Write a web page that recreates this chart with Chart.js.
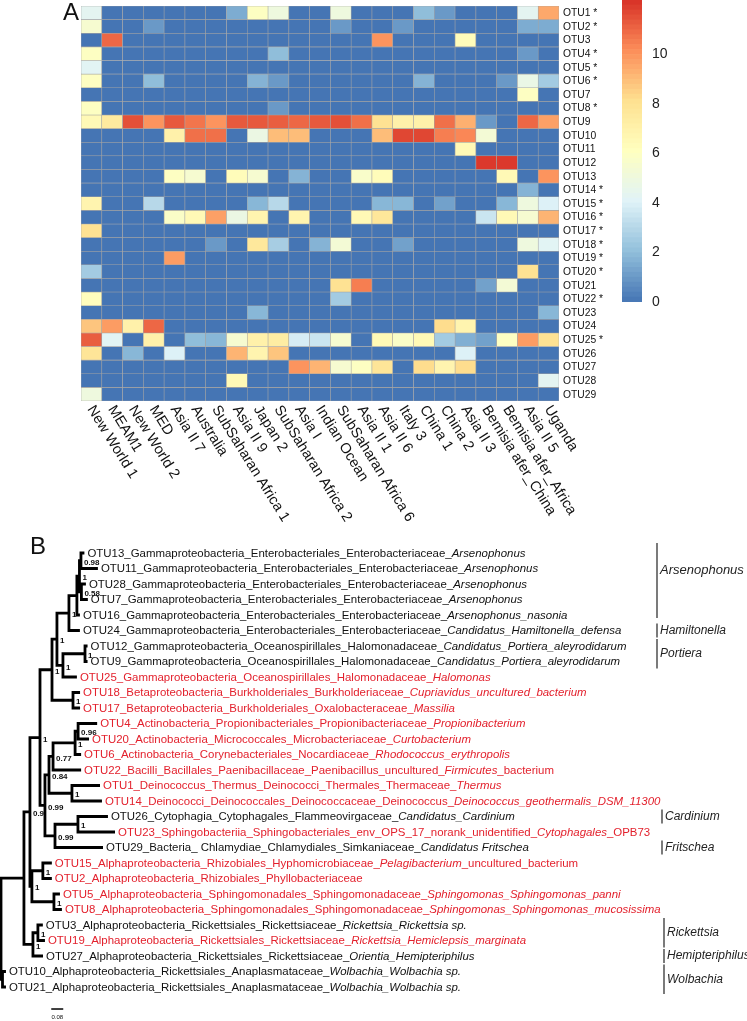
<!DOCTYPE html>
<html>
<head>
<meta charset="utf-8">
<script src="https://cdn.jsdelivr.net/npm/chart.js@4.4.1/dist/chart.umd.min.js"></script>
<style>
  html, body { margin: 0; padding: 0; background: #fff; }
  #page { position: relative; width: 747px; height: 1021px; overflow: hidden; }
  #page canvas { position: absolute; }
</style>
</head>
<body>
<div id="page">
  <canvas id="heat" width="747" height="545" style="left:0;top:0"></canvas>
  <canvas id="tree" width="747" height="501" style="left:0;top:520px"></canvas>
  <canvas id="scale" width="90" height="320" style="left:600px;top:0"></canvas>
</div>
<script>
(function () {
  'use strict';

  // ---- panel A data ----
  const columns = ['New World 1', 'MEAM1', 'New World 2', 'MED', 'Asia II 7', 'Australia',
    'SubSaharan Africa 1', 'Asia II 9', 'Japan 2', 'SubSaharan Africa 2', 'Asia I', 'Indian Ocean',
    'SubSaharan Africa 6', 'Asia II 1', 'Asia II 6', 'Italy 3', 'China 1', 'China 2', 'Asia II 3',
    'Bemisia afer_China', 'Bemisia afer_Africa', 'Asia II 5', 'Uganda'];

  const rowLabels = ['OTU1 *', 'OTU2 *', 'OTU3', 'OTU4 *', 'OTU5 *', 'OTU6 *', 'OTU7', 'OTU8 *',
    'OTU9', 'OTU10', 'OTU11', 'OTU12', 'OTU13', 'OTU14 *', 'OTU15 *', 'OTU16 *', 'OTU17 *',
    'OTU18 *', 'OTU19 *', 'OTU20 *', 'OTU21', 'OTU22 *', 'OTU23', 'OTU24', 'OTU25 *', 'OTU26',
    'OTU27', 'OTU28', 'OTU29'];

  const heatValues = [
    [4.3, 0, 0, 0, 0, 0, 0, 1.5, 6, 5, 0, 0, 5, 0, 0, 0, 2, 1, 0, 0, 0, 4.3, 9.5],
    [5.5, 0, 0, 1, 0, 0, 0, 0, 0, 0, 0, 0, 1, 0, 0, 1, 0, 0, 0, 0, 0, 1.5, 1.5],
    [0, 11, 0, 0, 0, 0, 0, 0, 0, 0, 0, 0, 0, 0, 10, 0, 0, 0, 6.3, 0, 0, 0, 0],
    [6, 0, 0, 0, 0, 0, 0, 0, 0, 2, 0, 0, 0, 0, 0, 0, 0, 0, 0, 0, 0, 1, 0],
    [4.2, 0, 0, 0, 0, 0, 0, 0, 0, 0, 0, 0, 0, 0, 0, 0, 0, 0, 0, 0, 0, 0, 0],
    [6, 0, 0, 2, 0, 0, 0, 0, 1.7, 1, 0, 0, 0, 0, 0, 0, 1.7, 0, 0, 0, 1, 4.7, 2.5],
    [0, 0, 0, 0, 0, 0, 0, 0, 0, 0, 0, 0, 0, 0, 0, 0, 0, 0, 0, 0, 0, 6, 0],
    [6, 0, 0, 0, 0, 0, 0, 0, 0, 1, 0, 0, 0, 0, 0, 0, 0, 0, 0, 0, 0, 0, 0],
    [6.5, 7.5, 11.5, 10, 11.3, 10.7, 10, 11.3, 11.3, 11.2, 11, 11.3, 11.5, 10.8, 8, 7, 7, 10.8, 9.3, 1, 0, 11, 9.7],
    [0, 0, 0, 0, 7, 10.8, 10.8, 0, 4.8, 9, 9, 0, 0, 0, 9, 11.7, 11.7, 10.5, 10.3, 5.3, 0, 0, 0],
    [0, 0, 0, 0, 0, 0, 0, 0, 0, 0, 0, 0, 0, 0, 0, 0, 0, 0, 6.5, 0, 0, 0, 0],
    [0, 0, 0, 0, 0, 0, 0, 0, 0, 0, 0, 0, 0, 0, 0, 0, 0, 0, 0, 12, 12, 0, 0],
    [0, 0, 0, 0, 6, 5.5, 0, 6.3, 5.5, 0, 1.7, 0, 0, 5.7, 6.3, 0, 0, 0, 0, 0, 6.5, 0, 10],
    [0, 0, 0, 0, 0, 0, 0, 0, 0, 0, 0, 0, 0, 0, 0, 0, 0, 0, 0, 0, 0, 1.7, 0],
    [6.8, 0, 0, 3, 0, 0, 0, 0, 1.8, 3, 0, 0, 0, 0, 1.8, 1.8, 0, 1.2, 0, 0, 1.8, 5, 4],
    [0, 0, 0, 0, 5.8, 6.5, 9.7, 4.8, 6.8, 0, 6.8, 0, 0, 6.5, 7.7, 0, 0, 0, 0, 3.5, 6.5, 5.5, 9.2],
    [8, 0, 0, 0, 0, 0, 0, 0, 0, 0, 0, 0, 0, 0, 0, 0, 0, 0, 0, 0, 0, 0, 0],
    [0, 0, 0, 0, 0, 0, 1, 0, 7.6, 2.6, 0, 1.7, 5.3, 0, 0, 1.2, 0, 0, 0, 0, 0, 5, 4.2],
    [0, 0, 0, 0, 9.8, 0, 0, 0, 0, 0, 0, 0, 0, 0, 0, 0, 0, 0, 0, 0, 0, 0, 0],
    [2.5, 0, 0, 0, 0, 0, 0, 0, 0, 0, 0, 0, 0, 0, 0, 0, 0, 0, 0, 0, 0, 8, 0],
    [0, 0, 0, 0, 0, 0, 0, 0, 0, 0, 0, 0, 8, 10.5, 0, 0, 0, 0, 0, 1.2, 5.3, 0, 0],
    [6.2, 0, 0, 0, 0, 0, 0, 0, 0, 0, 0, 0, 2.5, 0, 0, 0, 0, 0, 0, 0, 0, 0, 0],
    [0, 0, 0, 0, 0, 0, 0, 0, 1.8, 0, 0, 0, 0, 0, 0, 0, 0, 0, 0, 0, 0, 0, 1.8],
    [8.8, 9.8, 7, 11, 0, 0, 0, 0, 0, 0, 0, 0, 0, 0, 0, 0, 0, 8.2, 6.8, 0, 0, 0, 0],
    [11.2, 4.2, 0, 7, 0, 2, 1.8, 5.5, 7, 7.3, 3.8, 3.5, 5.5, 0, 6.5, 5.8, 6.5, 2.5, 1.6, 1.2, 6, 9.8, 8],
    [7.8, 0, 1.8, 0, 4, 0, 0, 9.2, 6.8, 8.8, 0, 0, 0, 0, 0, 0, 0, 0, 4, 0, 0, 0, 0],
    [0, 0, 0, 0, 0, 0, 0, 0, 0, 0, 10, 9.2, 5.5, 6, 7.8, 0, 8.2, 6.8, 8.2, 0, 0, 0, 0],
    [0, 0, 0, 0, 0, 0, 0, 6.5, 0, 0, 0, 0, 0, 0, 0, 0, 0, 0, 0, 0, 0, 0, 4.3],
    [5, 0, 0, 0, 0, 0, 0, 0, 0, 0, 0, 0, 0, 0, 0, 0, 0, 0, 0, 0, 0, 0, 0]
  ];

  const heatMax = 12.2;
  const legendTicks = [0, 2, 4, 6, 8, 10];

  // ---- panel B data ----
  const treeNewick =
    '((((((((((OTU13:0.023,OTU11:0.113)0.98:0.01,(OTU28:0.03,OTU7:0.043)0.58:0.013)1:0.017,' +
    'OTU16:0.02):0.053,OTU24:0.073)1:0.08,((OTU12:0.017,OTU9:0.017)1:0.147,OTU25:0.093)1:0.04)1:0.033,' +
    '(OTU18:0.047,OTU17:0.047)1:0.14)1:0.08,' +
    '(((((OTU4:0.127,OTU20:0.073)0.96:0.02,OTU6:0.04)1:0.147,OTU22:0.187)0.77:0.027,' +
    '(OTU1:0.187,OTU14:0.2)1:0.153)0.84:0.027,((OTU26:0.2,OTU23:0.247)1:0.153,OTU29:0.32)0.99:0.067)0.99:0.033)1:0.067,' +
    '((OTU15:0.06,OTU2:0.06)1:0.073,(OTU5:0.04,OTU8:0.053)1:0.147)1:0.013)0.9:0.04,' +
    '((OTU3:0.033,OTU19:0.047)1:0.033,OTU27:0.067)1:0.06):0.153,(OTU10:0.023,OTU21:0.023):0.01);';

  // text between * is italic
  const tipTaxonomy = {
    OTU13: 'OTU13_Gammaproteobacteria_Enterobacteriales_Enterobacteriaceae_*Arsenophonus*',
    OTU11: 'OTU11_Gammaproteobacteria_Enterobacteriales_Enterobacteriaceae_*Arsenophonus*',
    OTU28: 'OTU28_Gammaproteobacteria_Enterobacteriales_Enterobacteriaceae_*Arsenophonus*',
    OTU7: 'OTU7_Gammaproteobacteria_Enterobacteriales_Enterobacteriaceae_*Arsenophonus*',
    OTU16: 'OTU16_Gammaproteobacteria_Enterobacteriales_Enterobacteriaceae_*Arsenophonus_nasonia*',
    OTU24: 'OTU24_Gammaproteobacteria_Enterobacteriales_Enterobacteriaceae_*Candidatus_Hamiltonella_defensa*',
    OTU12: 'OTU12_Gammaproteobacteria_Oceanospirillales_Halomonadaceae_*Candidatus_Portiera_aleyrodidarum*',
    OTU9: 'OTU9_Gammaproteobacteria_Oceanospirillales_Halomonadaceae_*Candidatus_Portiera_aleyrodidarum*',
    OTU25: 'OTU25_Gammaproteobacteria_Oceanospirillales_Halomonadaceae_*Halomonas*',
    OTU18: 'OTU18_Betaproteobacteria_Burkholderiales_Burkholderiaceae_*Cupriavidus_uncultured_bacterium*',
    OTU17: 'OTU17_Betaproteobacteria_Burkholderiales_Oxalobacteraceae_*Massilia*',
    OTU4: 'OTU4_Actinobacteria_Propionibacteriales_Propionibacteriaceae_*Propionibacterium*',
    OTU20: 'OTU20_Actinobacteria_Micrococcales_Microbacteriaceae_*Curtobacterium*',
    OTU6: 'OTU6_Actinobacteria_Corynebacteriales_Nocardiaceae_*Rhodococcus_erythropolis*',
    OTU22: 'OTU22_Bacilli_Bacillales_Paenibacillaceae_Paenibacillus_uncultured_*Firmicutes*_bacterium',
    OTU1: 'OTU1_Deinococcus_Thermus_Deinococci_Thermales_Thermaceae_*Thermus*',
    OTU14: 'OTU14_Deinococci_Deinococcales_Deinococcaceae_Deinococcus_*Deinococcus_geothermalis_DSM_11300*',
    OTU26: 'OTU26_Cytophagia_Cytophagales_Flammeovirgaceae_*Candidatus_Cardinium*',
    OTU23: 'OTU23_Sphingobacteriia_Sphingobacteriales_env_OPS_17_norank_unidentified_*Cytophagales*_OPB73',
    OTU29: 'OTU29_Bacteria_ Chlamydiae_Chlamydiales_Simkaniaceae_*Candidatus Fritschea*',
    OTU15: 'OTU15_Alphaproteobacteria_Rhizobiales_Hyphomicrobiaceae_*Pelagibacterium*_uncultured_bacterium',
    OTU2: 'OTU2_Alphaproteobacteria_Rhizobiales_Phyllobacteriaceae',
    OTU5: 'OTU5_Alphaproteobacteria_Sphingomonadales_Sphingomonadaceae_*Sphingomonas_Sphingomonas_panni*',
    OTU8: 'OTU8_Alphaproteobacteria_Sphingomonadales_Sphingomonadaceae_*Sphingomonas_Sphingomonas_mucosissima*',
    OTU3: 'OTU3_Alphaproteobacteria_Rickettsiales_Rickettsiaceae_*Rickettsia_Rickettsia sp.*',
    OTU19: 'OTU19_Alphaproteobacteria_Rickettsiales_Rickettsiaceae_*Rickettsia_Hemiclepsis_marginata*',
    OTU27: 'OTU27_Alphaproteobacteria_Rickettsiales_Rickettsiaceae_*Orientia_Hemipteriphilus*',
    OTU10: 'OTU10_Alphaproteobacteria_Rickettsiales_Anaplasmataceae_*Wolbachia_Wolbachia sp.*',
    OTU21: 'OTU21_Alphaproteobacteria_Rickettsiales_Anaplasmataceae_*Wolbachia_Wolbachia sp.*'
  };

  const redTips = ['OTU25', 'OTU18', 'OTU17', 'OTU4', 'OTU20', 'OTU6', 'OTU22', 'OTU1', 'OTU14',
    'OTU23', 'OTU15', 'OTU2', 'OTU5', 'OTU8', 'OTU19'];

  // name, first tip row, last tip row
  const clades = [['Arsenophonus', 0, 4], ['Hamiltonella', 5, 5], ['Portiera', 6, 7],
    ['Cardinium', 17, 17], ['Fritschea', 19, 19], ['Rickettsia', 24, 25],
    ['Hemipteriphilus', 26, 26], ['Wolbachia', 27, 28]];

  const scaleBarLength = 0.08;

  // ---- layout / style ----
  const FONT = '"Liberation Sans", Arial, Helvetica, sans-serif';
  const RED = '#E3212D';
  const INK = '#111111';
  const pxPerUnit = 150;
  const cladeBarX = [657, 657, 657, 662, 662, 664, 664, 664];

  Chart.defaults.font.family = FONT;

  const palette = [[69, 117, 180], [145, 191, 219], [224, 243, 248], [255, 255, 191],
    [254, 224, 144], [252, 141, 89], [215, 48, 39]];

  function heatColor(v) {
    const t = Math.max(0, Math.min(1, v / heatMax)) * (palette.length - 1);
    const i = Math.min(Math.floor(t), palette.length - 2);
    const f = t - i;
    const a = palette[i];
    const b = palette[i + 1];
    return 'rgb(' + a.map(function (c, k) { return Math.round(c + (b[k] - c) * f); }).join(',') + ')';
  }

  // ---- heatmap ----
  const heatText = {
    id: 'heatText',
    afterDatasetsDraw: function (chart) {
      const ctx = chart.ctx;
      const area = chart.chartArea;
      const xs = chart.scales.x;
      const ys = chart.scales.y;
      ctx.save();
      ctx.fillStyle = INK;
      ctx.textBaseline = 'middle';
      ctx.textAlign = 'left';

      ctx.font = '14.5px ' + FONT;
      columns.forEach(function (c, i) {
        ctx.save();
        ctx.translate(xs.getPixelForValue(i) - 1, area.bottom + 6);
        ctx.rotate(58 * Math.PI / 180);
        ctx.fillText(c, 0, 0);
        ctx.restore();
      });

      ctx.font = '10.3px ' + FONT;
      rowLabels.forEach(function (r, i) {
        ctx.fillText(r, area.right + 4, ys.getPixelForValue(i + 0.5) + 0.5);
      });

      ctx.font = '24px ' + FONT;
      ctx.textBaseline = 'top';
      ctx.fillText('A', 63, 1);
      ctx.restore();
    }
  };

  new Chart(document.getElementById('heat'), {
    type: 'bar',
    data: {
      labels: columns,
      datasets: heatValues.map(function (row) {
        return {
          data: row.map(function () { return 1; }),
          backgroundColor: row.map(heatColor),
          borderColor: '#A4A4A4',
          borderWidth: 0.6,
          borderSkipped: false,
          barPercentage: 1,
          categoryPercentage: 1
        };
      })
    },
    options: {
      responsive: false,
      animation: false,
      events: [],
      layout: { padding: { left: 81, top: 6, right: 188, bottom: 144 } },
      plugins: { legend: { display: false }, tooltip: { enabled: false } },
      scales: {
        x: { display: false, stacked: true },
        y: { display: false, stacked: true, reverse: true, min: 0, max: rowLabels.length }
      }
    },
    plugins: [heatText]
  });

  // ---- colour key ----
  const keySteps = 61;
  const keyData = [];
  for (let s = 0; s < keySteps; s++) {
    keyData.push({
      data: [heatMax / keySteps],
      backgroundColor: heatColor((s + 0.5) * heatMax / keySteps),
      borderWidth: 0,
      barPercentage: 1,
      categoryPercentage: 1
    });
  }

  new Chart(document.getElementById('scale'), {
    type: 'bar',
    data: { labels: [''], datasets: keyData },
    options: {
      responsive: false,
      animation: false,
      events: [],
      layout: { padding: { left: 22, top: 0, right: 0, bottom: 18 } },
      plugins: { legend: { display: false }, tooltip: { enabled: false } },
      scales: {
        x: { display: false, stacked: true },
        y: {
          stacked: true,
          position: 'right',
          min: 0,
          max: heatMax,
          border: { display: false },
          grid: { display: false, drawTicks: false },
          afterBuildTicks: function (s) {
            s.ticks = legendTicks.map(function (v) { return { value: v }; });
          },
          afterFit: function (s) {
            s.width = 48;
            s.paddingTop = 0;
            s.paddingBottom = 0;
          },
          ticks: { padding: 10, color: '#222', font: { size: 14 } }
        }
      }
    }
  });

  // ---- tree ----
  function parseNewick(s) {
    let i = 0;
    function node() {
      const n = { children: [], label: '', length: 0 };
      if (s[i] === '(') {
        i++;
        n.children.push(node());
        while (s[i] === ',') {
          i++;
          n.children.push(node());
        }
        i++;
      }
      while (i < s.length && ':,);'.indexOf(s[i]) < 0) n.label += s[i++];
      if (s[i] === ':') {
        i++;
        let num = '';
        while (i < s.length && ',);'.indexOf(s[i]) < 0) num += s[i++];
        n.length = parseFloat(num);
      }
      return n;
    }
    return node();
  }

  const root = parseNewick(treeNewick);
  const tips = [];
  const inner = [];
  (function walk(n, depth) {
    n.depth = depth;
    if (!n.children.length) {
      n.row = tips.length;
      tips.push(n);
      return;
    }
    n.children.forEach(function (c) { walk(c, depth + c.length); });
    n.row = (n.children[0].row + n.children[n.children.length - 1].row) / 2;
    inner.push(n);
  })(root, 0);

  const branchPoints = [];
  inner.forEach(function (n) {
    const first = n.children[0];
    const last = n.children[n.children.length - 1];
    branchPoints.push(
      { x: first.depth, y: first.row },
      { x: n.depth, y: first.row },
      { x: n.depth, y: last.row },
      { x: last.depth, y: last.row },
      { x: n.depth, y: null }
    );
  });

  const scaleBarStart = 0.335;
  const scaleBarRow = 29.42;

  const treeText = {
    id: 'treeText',
    afterDatasetsDraw: function (chart) {
      const ctx = chart.ctx;
      const xs = chart.scales.x;
      const ys = chart.scales.y;
      ctx.save();
      ctx.textBaseline = 'middle';
      ctx.textAlign = 'left';

      tips.forEach(function (t) {
        let x = xs.getPixelForValue(t.depth) + 3;
        const y = ys.getPixelForValue(t.row) + 0.5;
        ctx.fillStyle = redTips.indexOf(t.label) >= 0 ? RED : INK;
        tipTaxonomy[t.label].split('*').forEach(function (part, k) {
          ctx.font = (k % 2 ? 'italic ' : '') + '11.45px ' + FONT;
          ctx.fillText(part, x, y);
          x += ctx.measureText(part).width;
        });
      });

      ctx.fillStyle = INK;
      ctx.font = 'bold 8px ' + FONT;
      inner.forEach(function (n) {
        if (!n.label) return;
        ctx.fillText(n.label, xs.getPixelForValue(n.depth) + 3, ys.getPixelForValue(n.row) + 2);
      });

      clades.forEach(function (c, k) {
        const bx = cladeBarX[k];
        const y0 = ys.getPixelForValue(c[1]) - (k === 0 ? 10 : 7);
        const y1 = ys.getPixelForValue(c[2]) + (k === 0 ? 3 : 7);
        ctx.strokeStyle = '#333';
        ctx.lineWidth = 1.3;
        ctx.beginPath();
        ctx.moveTo(bx, y0);
        ctx.lineTo(bx, y1);
        ctx.stroke();
        ctx.fillStyle = '#222';
        ctx.font = 'italic ' + (k === 0 ? 13 : 12) + 'px ' + FONT;
        ctx.fillText(c[0], bx + 3, (y0 + y1) / 2 - (k === 0 ? 10 : 0));
      });

      ctx.fillStyle = INK;
      ctx.font = '6px ' + FONT;
      ctx.textAlign = 'center';
      ctx.fillText(String(scaleBarLength),
        xs.getPixelForValue(scaleBarStart + scaleBarLength / 2), ys.getPixelForValue(scaleBarRow) + 8);

      ctx.textAlign = 'left';
      ctx.textBaseline = 'top';
      ctx.font = '24px ' + FONT;
      ctx.fillText('B', 30, 15);
      ctx.restore();
    }
  };

  new Chart(document.getElementById('tree'), {
    type: 'scatter',
    data: {
      datasets: [
        {
          data: branchPoints,
          showLine: true,
          spanGaps: false,
          borderColor: '#000',
          borderWidth: 2.8,
          borderJoinStyle: 'miter',
          borderCapStyle: 'butt',
          pointRadius: 0,
          clip: false
        },
        {
          data: [{ x: scaleBarStart, y: scaleBarRow }, { x: scaleBarStart + scaleBarLength, y: scaleBarRow }],
          showLine: true,
          borderColor: '#000',
          borderWidth: 1.5,
          pointRadius: 0,
          clip: false
        }
      ]
    },
    options: {
      responsive: false,
      animation: false,
      events: [],
      layout: { padding: { left: 1, top: 9.75, right: 0, bottom: 10.75 } },
      plugins: { legend: { display: false }, tooltip: { enabled: false } },
      scales: {
        x: { type: 'linear', display: false, min: 0, max: 746 / pxPerUnit },
        y: { type: 'linear', display: false, min: -1.5, max: tips.length + 0.5, reverse: true }
      }
    },
    plugins: [treeText]
  });
})();
</script>
</body>
</html>
